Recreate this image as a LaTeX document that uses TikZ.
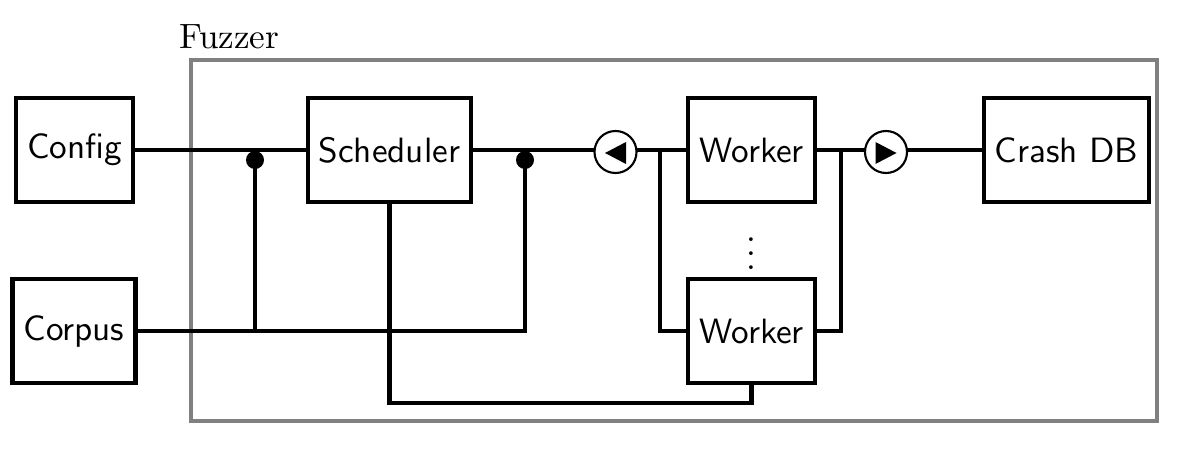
\documentclass[tikz,border=0pt]{standalone}
\usetikzlibrary{calc}
\begin{document}
\begin{tikzpicture}
  [x=0.01cm,y=-0.01cm,very thick,
   box/.style={draw,font=\sffamily,minimum height=1.04cm,inner xsep=0.11cm},
   valve/.style={draw,semithick,circle,fill=white,minimum size=0.42cm,inner sep=0pt},
   joint/.style={circle,fill,inner sep=0pt,minimum size=0.18cm}]
  \useasboundingbox (0,0) rectangle (1179,470);

  \draw[gray,line width=1pt] (191,60) rectangle (1157,421);
  \node[anchor=south west,inner sep=0pt] (fuzzlabel) at (177,51) {Fuzzer};

  \node[box] (config) at (74.5,150) {Config};
  \node[box] (corpus) at (74,331) {Corpus};
  \node[box] (sched) at (389.5,150) {Scheduler};
  \node[box] (work1) at (751.5,150) {Worker};
  \node[box] (work2) at (751.5,331) {Worker};
  \node[box] (crash) at (1066.5,150) {Crash DB};
  \node[inner sep=0pt] (more) at (751.5,243) {$\vdots$};

  \coordinate (j1) at (255,160);
  \coordinate (j2) at (525,160);
  \coordinate (splitL) at (660,150);
  \coordinate (splitR) at (841,150);
  \coordinate (back) at (389.5,403);

  \foreach \from/\to in {config/sched,sched/work1,work1/crash}
    \draw (\from) -- (\to);

  \node[valve] (pull) at (615.5,152) {};
  \node[valve] (push) at (886,152) {};

  \draw (corpus.east) -| (j2);
  \draw (j1) -- (j1 |- corpus.east);
  \node[joint] (dot1) at (j1) {};
  \node[joint] (dot2) at (j2) {};
  \draw (sched.south) -- (back) -| (work2.south);
  \draw (splitL) |- (work2.west);
  \draw (splitR) |- (work2.east);

  \fill ($(pull)+(-10.5,1)$) -- ++(21,-11) -- ++(0,22) -- cycle;
  \fill ($(push)+(10.5,1)$) -- ++(-21,-11) -- ++(0,22) -- cycle;

\end{tikzpicture}
\end{document}
